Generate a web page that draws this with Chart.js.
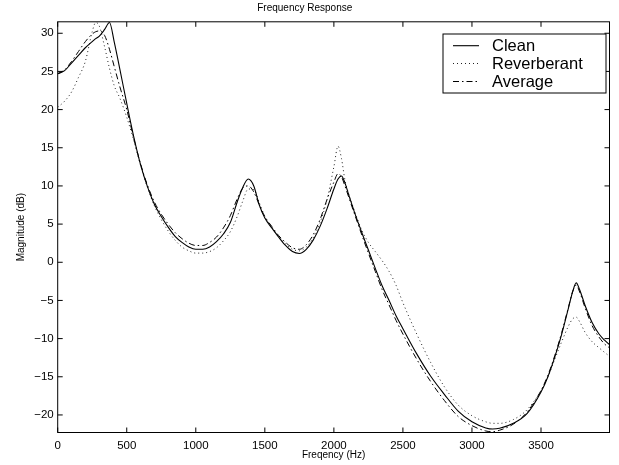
<!DOCTYPE html>
<html>
<head>
<meta charset="utf-8">
<script src="https://cdn.jsdelivr.net/npm/chart.js@4.4.1/dist/chart.umd.min.js"></script>
<style>
  body { margin: 0; background: #fff; }
  canvas { display: block; }
</style>
</head>
<body>
<canvas id="freqChart" width="619" height="465"></canvas>
<script>
// Frequency axis (Hz) and magnitudes (dB)
const freqs = [0, 50, 100, 150, 200, 250, 275, 300, 340, 375,
  410, 450, 500, 550, 600, 650, 700, 750, 800, 850,
  900, 950, 1000, 1050, 1100, 1150, 1200, 1250, 1300, 1340,
  1380, 1420, 1460, 1500, 1550, 1600, 1650, 1700, 1750, 1800,
  1850, 1900, 1950, 2000, 2030, 2055, 2080, 2110, 2150, 2200,
  2250, 2300, 2350, 2400, 2450, 2500, 2600, 2700, 2800, 2900,
  3000, 3100, 3150, 3200, 3300, 3400, 3500, 3550, 3600, 3650,
  3700, 3730, 3755, 3780, 3820, 3870, 3920, 3960, 3995];

const clean = [24.7, 25.1, 26.1, 27.1, 28.1, 28.9, 29.3, 29.6, 30.5, 31.4,
  28.8, 25.3, 20.8, 16.5, 12.8, 9.9, 7.6, 6.0, 4.6, 3.4,
  2.6, 2.0, 1.7, 1.7, 2.0, 2.7, 3.7, 5.2, 7.9, 9.8,
  10.9, 10.0, 7.5, 5.8, 4.5, 3.3, 2.2, 1.4, 1.15, 1.7,
  2.9, 4.7, 7.0, 9.6, 10.9, 11.3, 10.4, 8.7, 6.5, 4.0,
  1.6, -0.8, -3.1, -5.0, -7.0, -8.7, -12.0, -14.9, -17.3, -19.5,
  -20.9, -21.7, -21.85, -21.75, -21.1, -19.8, -17.0, -15.0, -12.4, -9.4,
  -5.9, -3.8, -2.7, -3.6, -5.7, -7.9, -9.4, -10.2, -10.8];

const reverberant = [20.3, 21.1, 22.3, 24.2, 26.3, 30.2, 31.4, 31.0, 28.2, 25.4,
  23.1, 21.5, 19.0, 16.0, 12.7, 9.8, 7.4, 5.6, 4.1, 2.9,
  2.0, 1.5, 1.2, 1.2, 1.4, 1.9, 2.8, 4.0, 6.0, 8.0,
  9.6, 9.5, 7.8, 6.0, 4.6, 3.3, 2.4, 1.7, 1.5, 2.0,
  3.2, 5.2, 8.2, 12.5, 15.2, 13.6, 10.8, 8.8, 6.7, 4.3,
  2.6, 1.4, 0.2, -1.2, -3.0, -5.3, -9.4, -13.1, -16.3, -18.7,
  -20.1, -20.9, -21.1, -21.1, -20.6, -19.3, -16.8, -15.0, -12.7, -10.4,
  -8.3, -7.4, -7.2, -7.8, -9.2, -10.4, -11.2, -11.8, -12.3];

const average = [24.7, 25.2, 26.3, 27.6, 28.9, 29.9, 30.2, 30.3, 29.7, 27.9,
  25.6, 23.0, 20.0, 16.3, 12.9, 10.1, 7.9, 6.3, 5.0, 3.9,
  3.1, 2.5, 2.2, 2.2, 2.6, 3.3, 4.5, 6.1, 8.3, 9.7,
  10.0, 9.2, 7.5, 6.0, 4.7, 3.5, 2.6, 1.9, 1.7, 2.3,
  3.6, 5.6, 8.2, 10.5, 11.6, 11.2, 10.0, 8.4, 6.3, 3.7,
  1.2, -1.2, -3.6, -5.6, -7.6, -9.4, -12.7, -15.6, -18.1, -20.2,
  -21.4, -22.1, -22.2, -22.0, -21.2, -19.6, -16.8, -14.8, -12.2, -9.2,
  -5.8, -3.8, -3.0, -3.9, -6.0, -8.3, -9.8, -10.7, -11.2];

const seriesNames = ["Clean", "Reverberant", "Average"];
const xTickValues = [0, 500, 1000, 1500, 2000, 2500, 3000, 3500];

const FONT = "'Liberation Sans', Arial, Helvetica, sans-serif";

function toPoints(values) {
  return freqs.map((f, i) => ({ x: f, y: values[i] }));
}

// Matlab-style box with inward ticks and an in-plot legend
const boxPlugin = {
  id: "matlabBox",
  afterDraw(chart) {
    const ctx = chart.ctx;
    const { left, right, top, bottom } = chart.chartArea;
    const xs = chart.scales.x;
    const ys = chart.scales.y;
    const tick = 5;

    ctx.save();
    ctx.strokeStyle = "#000";
    ctx.lineWidth = 1;
    ctx.setLineDash([]);
    ctx.strokeRect(left, top, right - left, bottom - top);

    ctx.beginPath();
    xs.ticks.forEach((t) => {
      const px = xs.getPixelForValue(t.value);
      ctx.moveTo(px, bottom);
      ctx.lineTo(px, bottom - tick);
      ctx.moveTo(px, top);
      ctx.lineTo(px, top + tick);
    });
    ys.ticks.forEach((t) => {
      const py = ys.getPixelForValue(t.value);
      ctx.moveTo(left, py);
      ctx.lineTo(left + tick, py);
      ctx.moveTo(right, py);
      ctx.lineTo(right - tick, py);
    });
    ctx.stroke();

    // legend
    const lx = 443, ly = 34, lw = 163, lh = 59;
    ctx.fillStyle = "#fff";
    ctx.fillRect(lx, ly, lw, lh);
    ctx.strokeRect(lx, ly, lw, lh);
    ctx.font = "16.5px " + FONT;
    ctx.textBaseline = "middle";
    ctx.textAlign = "left";
    const rows = [45.7, 63.5, 81.5];
    chart.data.datasets.forEach((ds, i) => {
      const y = rows[i];
      ctx.beginPath();
      ctx.setLineDash(ds.borderDash || []);
      ctx.strokeStyle = ds.borderColor;
      ctx.lineWidth = ds.borderWidth;
      ctx.moveTo(453, y);
      ctx.lineTo(479, y);
      ctx.stroke();
      ctx.setLineDash([]);
      ctx.fillStyle = "#000";
      ctx.fillText(ds.label, 492, y + 0.5);
    });
    ctx.restore();
  },
};

const ctx = document.getElementById("freqChart").getContext("2d");
const chart = new Chart(ctx, {
  type: "line",
  data: {
    datasets: [
      {
        label: seriesNames[0],
        data: toPoints(clean),
        borderColor: "#000",
        borderWidth: 1.1,
      },
      {
        label: seriesNames[1],
        data: toPoints(reverberant),
        borderColor: "#222",
        borderWidth: 1,
        borderDash: [1, 3],
      },
      {
        label: seriesNames[2],
        data: toPoints(average),
        borderColor: "#000",
        borderWidth: 1,
        borderDash: [6, 3, 1.5, 3],
      },
    ],
  },
  options: {
    responsive: false,
    animation: false,
    layout: {
      padding: { left: 0, right: 9.5, top: 0, bottom: 3.4 },
    },
    elements: {
      point: { radius: 0 },
      line: { cubicInterpolationMode: "monotone", fill: false },
    },
    plugins: {
      legend: { display: false },
      tooltip: { enabled: false },
      title: {
        display: true,
        text: "Frequency Response",
        color: "#000",
        font: { family: FONT, size: 10, weight: "normal" },
        padding: { top: 2.5, bottom: 7.3 },
      },
    },
    scales: {
      x: {
        type: "linear",
        min: 0,
        max: 3996,
        grid: { display: false, drawTicks: false },
        border: { display: false },
        afterBuildTicks(scale) {
          scale.ticks = xTickValues.map((v) => ({ value: v }));
        },
        ticks: {
          autoSkip: false,
          maxRotation: 0,
          padding: 6,
          color: "#000",
          font: { family: FONT, size: 11.5 },
          callback: function (value) {
            return String(value);
          },
        },
        title: {
          display: true,
          text: "Freqency (Hz)",
          color: "#000",
          font: { family: FONT, size: 10 },
          padding: { top: 0, bottom: 0 },
        },
        afterFit(scale) {
          scale.height = 29.1;
        },
      },
      y: {
        min: -22.3,
        max: 31.5,
        grid: { display: false, drawTicks: false },
        border: { display: false },
        ticks: {
          stepSize: 5,
          includeBounds: false,
          autoSkip: false,
          padding: 4,
          color: "#000",
          font: { family: FONT, size: 11.5 },
          callback: function (value) {
            return value < 0 ? "\u2212" + Math.abs(value) : String(value);
          },
        },
        title: {
          display: true,
          text: "Magnitude (dB)",
          color: "#000",
          font: { family: FONT, size: 10 },
          padding: { top: 15, bottom: 0 },
        },
        afterFit(scale) {
          scale.width = 57.7;
        },
      },
    },
  },
  plugins: [boxPlugin],
});
</script>
</body>
</html>
